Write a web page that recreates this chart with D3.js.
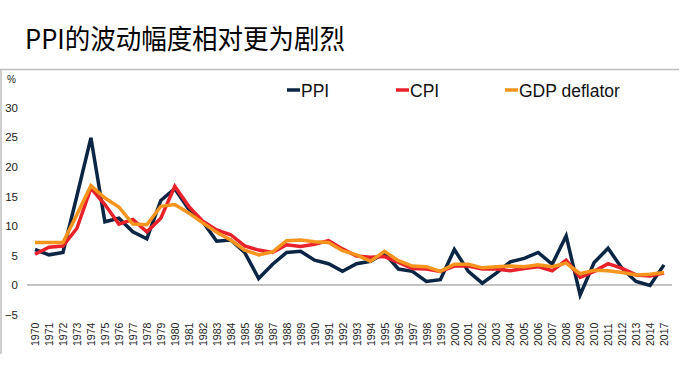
<!DOCTYPE html>
<html>
<head>
<meta charset="utf-8">
<script src="https://cdn.jsdelivr.net/npm/d3@7/dist/d3.min.js"></script>
<style>
  body { margin: 0; background: #fff; }
  svg { display: block; font-family: "Liberation Sans", Arial, sans-serif; }
</style>
</head>
<body>
<div id="chart"></div>
<script>
// category labels (the last one jumps to 2017 as in the source)
const years = ['1970','1971','1972','1973','1974','1975','1976','1977','1978','1979',
  '1980','1981','1982','1983','1984','1985','1986','1987','1988','1989',
  '1990','1991','1992','1993','1994','1995','1996','1997','1998','1999',
  '2000','2001','2002','2003','2004','2005','2006','2007','2008','2009',
  '2010','2011','2012','2013','2014','2017'];

const ppi = [6.0, 5.1, 5.5, 15.1, 24.9, 10.7, 11.3, 9.0, 7.8, 14.3,
  16.3, 12.8, 10.7, 7.4, 7.6, 5.5, 1.1, 3.5, 5.5, 5.7,
  4.2, 3.6, 2.3, 3.6, 4.0, 5.4, 2.7, 2.3, 0.6, 0.9,
  6.0, 2.3, 0.3, 2.0, 3.9, 4.5, 5.5, 3.5, 8.3, -1.7,
  3.8, 6.2, 2.8, 0.6, -0.1, 3.4];

const cpi = [5.2, 6.4, 6.6, 9.6, 16.4, 13.6, 10.3, 11.1, 9.0, 11.3,
  16.7, 13.3, 10.8, 9.3, 8.5, 6.6, 5.9, 5.5, 6.8, 6.5,
  6.9, 7.5, 6.1, 4.9, 4.7, 4.8, 3.8, 2.8, 2.7, 2.3,
  3.2, 3.2, 2.7, 2.7, 2.4, 2.8, 3.1, 2.4, 4.2, 1.3,
  2.3, 3.6, 2.8, 1.7, 1.5, 2.0];

const gdpDeflator = [7.2, 7.2, 7.2, 11.9, 16.8, 14.7, 13.2, 10.3, 10.2, 13.3,
  13.6, 12.2, 10.5, 8.9, 7.6, 5.9, 5.1, 5.6, 7.5, 7.6,
  7.3, 7.2, 5.8, 5.1, 4.0, 5.7, 4.1, 3.2, 3.1, 2.3,
  3.5, 3.5, 2.9, 3.1, 3.2, 3.1, 3.4, 3.1, 3.7, 1.9,
  2.5, 2.4, 2.1, 1.7, 1.8, 2.1];

const yTicks = [-5, 0, 5, 10, 15, 20, 25, 30];

const seriesNames = ['PPI', 'CPI', 'GDP deflator'];
const seriesColours = ['#0b2545', '#e8212b', '#f7941d'];
const seriesValues = [ppi, cpi, gdpDeflator];

const width = 688, height = 371;

const svg = d3.select('#chart').append('svg')
  .attr('width', width)
  .attr('height', height);

// title
svg.append('text')
  .attr('x', 25)
  .attr('y', 49)
  .attr('font-family', '"Noto Sans CJK SC", sans-serif')
  .attr('font-size', 27)
  .attr('textLength', 320)
  .attr('lengthAdjust', 'spacingAndGlyphs')
  .attr('fill', '#000')
  .text('PPI的波动幅度相对更为剧烈');

// box edges
svg.append('line')
  .attr('x1', 0).attr('x2', 679).attr('y1', 69.5).attr('y2', 69.5)
  .attr('stroke', '#bfbfbf').attr('stroke-width', 1.5);
svg.append('line')
  .attr('x1', 1).attr('x2', 1).attr('y1', 69).attr('y2', 354)
  .attr('stroke', '#bfbfbf').attr('stroke-width', 1.5);

const x = d3.scalePoint()
  .domain(years)
  .range([35, 664]);

const y = d3.scaleLinear()
  .domain([-5, 30])
  .range([314.5, 107.7]);

// y axis labels
const yAxis = svg.append('g')
  .attr('transform', 'translate(18,0)')
  .call(d3.axisLeft(y).tickValues(yTicks).tickSize(0).tickPadding(0));
yAxis.select('.domain').remove();
yAxis.selectAll('text')
  .attr('font-size', 11.5)
  .attr('font-family', '"Liberation Sans", Arial, sans-serif')
  .attr('fill', '#222');

svg.append('text')
  .attr('x', 7)
  .attr('y', 83)
  .attr('font-size', 10)
  .attr('fill', '#222')
  .text('%');

// zero line
svg.append('line')
  .attr('x1', 27).attr('x2', 672)
  .attr('y1', y(0)).attr('y2', y(0))
  .attr('stroke', '#898989').attr('stroke-width', 1);

// x labels (low position, rotated)
const xAxis = svg.append('g')
  .attr('transform', 'translate(0,321)')
  .call(d3.axisBottom(x).tickSize(0).tickPadding(0));
xAxis.select('.domain').remove();
xAxis.selectAll('text')
  .attr('font-size', 10.5)
  .attr('font-family', '"Liberation Sans", Arial, sans-serif')
  .attr('fill', '#222')
  .attr('transform', 'rotate(-90)')
  .attr('text-anchor', 'start')
  .attr('dy', '0.35em')
  .attr('x', -25)
  .attr('y', 0);

// lines
const line = d3.line()
  .x((d, i) => x(years[i]))
  .y(d => y(d));

seriesValues.forEach((vals, k) => {
  svg.append('path')
    .datum(vals)
    .attr('fill', 'none')
    .attr('stroke', seriesColours[k])
    .attr('stroke-width', 3.5)
    .attr('stroke-linejoin', 'miter')
    .attr('d', line);
});

// legend
const legendX = [287, 396, 505];
seriesNames.forEach((name, k) => {
  const g = svg.append('g').attr('transform', `translate(${legendX[k]},90)`);
  g.append('line')
    .attr('x1', 0).attr('x2', 13)
    .attr('y1', 0).attr('y2', 0)
    .attr('stroke', seriesColours[k])
    .attr('stroke-width', 3.5);
  g.append('text')
    .attr('x', 14)
    .attr('y', 6.5)
    .attr('font-size', 17.5)
    .attr('fill', '#111')
    .text(name);
});
</script>
</body>
</html>
